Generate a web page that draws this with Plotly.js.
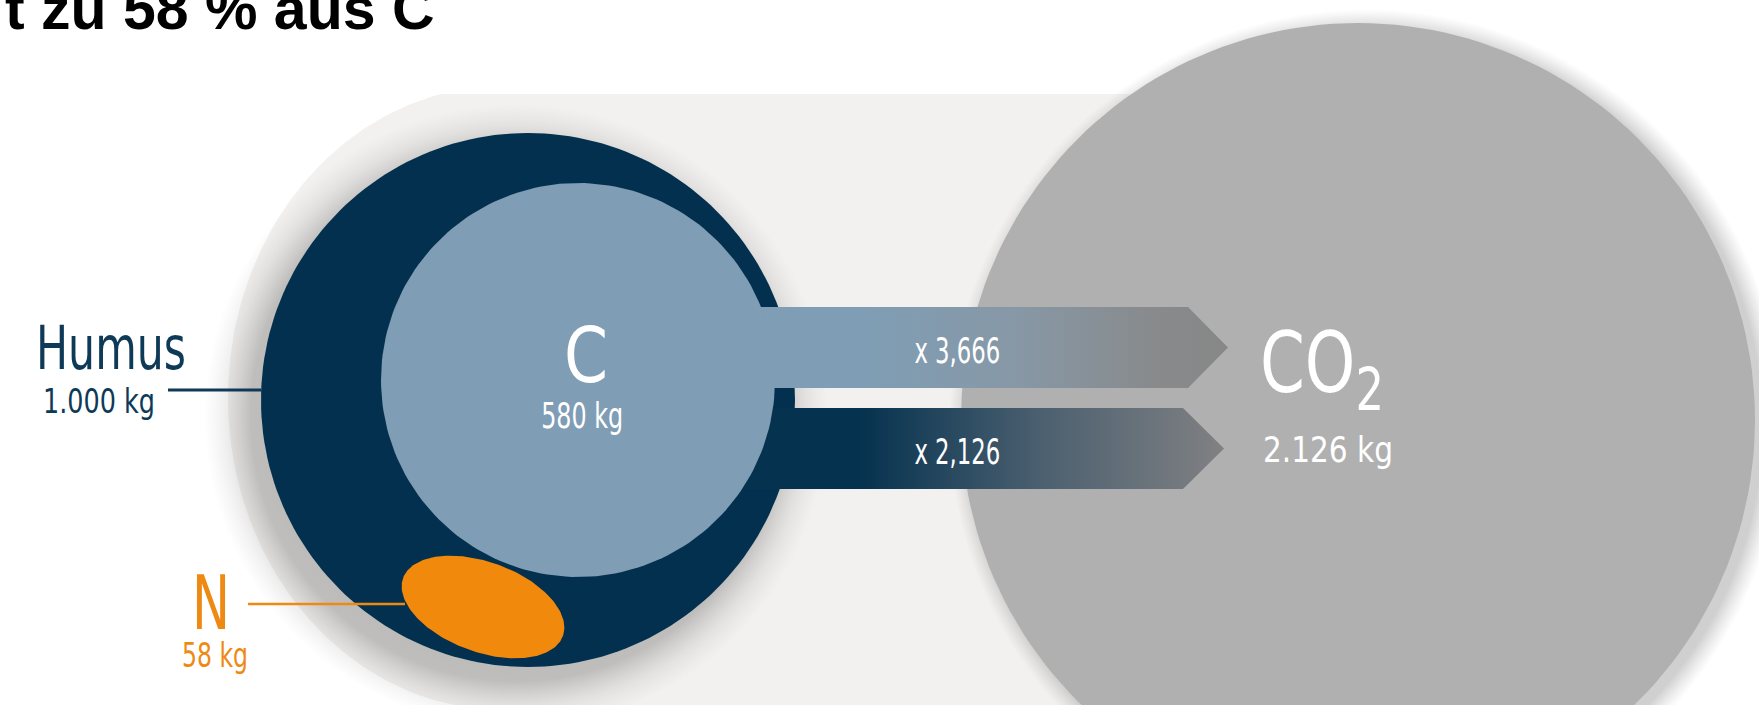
<!DOCTYPE html>
<html>
<head>
<meta charset="utf-8">
<script src="https://cdn.plot.ly/plotly-3.0.1.min.js"></script>
<style>
html,body{margin:0;padding:0;background:#ffffff;overflow:hidden}
#chart{width:1759px;height:705px}
</style>
</head>
<body>
<div id="chart"></div>
<script>
// ---------------- data ----------------
const titleText = 't zu 58 % aus C';
const componentNames = ['Humus', 'C', 'N', 'CO<sub>2</sub>'];
const componentKg = [1000, 580, 58, 2126];
const conversionFactors = [3.666, 2.126];

// ---------------- helpers ----------------
const W = 1759, H = 705;
function deNum(v) { return String(v).replace(/\B(?=(\d{3})+(?!\d))/g, '.'); }
function kgLabel(v) { return deNum(v) + ' kg'; }
function factorLabel(f) { return 'x ' + f.toFixed(3).replace('.', ','); }

// geometry (pixel-like data coordinates, y axis reversed)
const G = {
  bg:     {cx: 503, cy: 398, rx: 275, ry: 312, top: 94, right: 1420},
  co2:    {cx: 1358, cy: 420, r: 397},
  humus:  {cx: 528, cy: 400, r: 267},
  carbon: {cx: 578, cy: 380, r: 197},
  nitro:  {cx: 483, cy: 607, rx: 85, ry: 45, rot: 20},
  arrows: [
    {x0: 600, x1: 1188, tip: 1228, y0: 307, y1: 388},
    {x0: 600, x1: 1183, tip: 1224, y0: 408, y1: 489}
  ]
};

function ellipse(cx, cy, rx, ry, rotDeg, n) {
  n = n || 200;
  const a = rotDeg * Math.PI / 180, xs = [], ys = [];
  for (let i = 0; i <= n; i++) {
    const t = 2 * Math.PI * i / n;
    const ex = rx * Math.cos(t), ey = ry * Math.sin(t);
    xs.push(cx + ex * Math.cos(a) - ey * Math.sin(a));
    ys.push(cy + ex * Math.sin(a) + ey * Math.cos(a));
  }
  return {x: xs, y: ys};
}
function circle(c, dx, dy, dr) { return ellipse(c.cx + (dx||0), c.cy + (dy||0), c.r + (dr||0), c.r + (dr||0), 0); }

function bgShape(g) {
  const bottom = H + 5;
  const tT = Math.asin(Math.max(-1, (g.top - g.cy) / g.ry));
  const tB = Math.asin(Math.min(1, (bottom - g.cy) / g.ry));
  const aT = Math.PI - tT, aB = Math.PI - tB;
  const xB = g.cx + g.rx * Math.cos(aB), yB = g.cy + g.ry * Math.sin(aB);
  const xs = [g.cx + g.rx * Math.cos(aT), g.right, g.right, xB, xB];
  const ys = [g.top, g.top, bottom, bottom, yB];
  for (let i = 0; i <= 160; i++) {
    const t = aB + (aT - aB) * i / 160;
    xs.push(g.cx + g.rx * Math.cos(t)); ys.push(g.cy + g.ry * Math.sin(t));
  }
  return {x: xs, y: ys};
}
function arrowShape(a) {
  const m = (a.y0 + a.y1) / 2;
  return {x: [a.x0, a.x1, a.tip, a.x1, a.x0, a.x0], y: [a.y0, a.y0, m, a.y1, a.y1, a.y0]};
}
function poly(p, opts) {
  return Object.assign({type: 'scatter', mode: 'lines', x: p.x, y: p.y, fill: 'toself',
    line: {width: 0, color: 'rgba(0,0,0,0)'}, hoverinfo: 'skip', showlegend: false}, opts);
}

const NAVY = '#03304e', LIGHTBLUE = '#7f9db5', ORANGE = '#f0890c', GREY = '#b1b0b1', BG = '#f2f1ef';

const traces = [
  poly(bgShape(G.bg), {fillcolor: BG}),
  poly(circle(G.co2, 8, 6, 20), {fillgradient: {type: 'radial', colorscale: [
    [0, 'rgba(120,120,120,0.45)'], [0.95, 'rgba(120,120,120,0.35)'], [1, 'rgba(150,150,150,0)']]}}),
  poly(circle(G.co2), {fillcolor: GREY}),
  poly(circle(G.humus, -12, 16, 45), {fillgradient: {type: 'radial', colorscale: [
    [0, 'rgba(80,80,80,0.5)'], [0.85, 'rgba(80,80,80,0.32)'], [0.93, 'rgba(110,110,110,0.12)'], [1, 'rgba(140,140,140,0)']]}}),
  poly(circle(G.humus), {fillcolor: NAVY}),
  poly(arrowShape(G.arrows[1]), {fillgradient: {type: 'horizontal', start: 860, stop: 1224, colorscale: [
    [0, '#05324f'], [0.5, '#4c6070'], [1, '#808183']]}}),
  poly(arrowShape(G.arrows[0]), {fillgradient: {type: 'horizontal', start: 870, stop: 1228, colorscale: [
    [0, '#7f9db4'], [0.4, '#8798a6'], [0.8, '#888a8c'], [1, '#878787']]}}),
  poly(circle(G.carbon), {fillcolor: LIGHTBLUE}),
  poly(ellipse(G.nitro.cx, G.nitro.cy, G.nitro.rx, G.nitro.ry, G.nitro.rot), {fillcolor: ORANGE})
];

const COND = 'DejaVu Sans Condensed, DejaVu Sans, sans-serif';
function ann(text, x, y, size, color, xanchor) {
  return {text: text, x: x, y: y, xref: 'x', yref: 'y', showarrow: false,
    xanchor: xanchor || 'left', yanchor: 'middle',
    font: {family: COND, size: size, color: color}};
}
const humusC = '#0e3a58', nC = '#ee8a14', WHITE = '#ffffff';
const annotations = [
  {text: titleText, x: 3, y: 9, xref: 'x', yref: 'y', showarrow: false, xanchor: 'left', yanchor: 'middle',
   font: {family: 'Liberation Sans, Arial, sans-serif', size: 59, color: '#000000', weight: 'bold'}},
  ann(componentNames[0], 34, 347, 61, humusC),
  ann(kgLabel(componentKg[0]), 41, 401, 33, humusC),
  ann(componentNames[1], 586, 355, 76, WHITE, 'center'),
  ann(kgLabel(componentKg[1]), 582, 416, 35, WHITE, 'center'),
  ann(componentNames[2], 190, 603, 74, nC),
  ann(kgLabel(componentKg[2]), 180, 655, 33, nC),
  ann(componentNames[3], 1258, 369, 84, WHITE),
  ann(kgLabel(componentKg[3]), 1261, 450, 35, WHITE),
  ann(factorLabel(conversionFactors[0]), 957, 351, 35, WHITE, 'center'),
  ann(factorLabel(conversionFactors[1]), 957, 452, 35, WHITE, 'center')
];
// target text widths (px) to emulate the narrow typeface of the original
const textWidths = [null, 150, 112, 44, 82, 38, 66, 124, 130, 86, 86];

const humusLineY = 390;
const humusEdgeX = G.humus.cx - Math.sqrt(G.humus.r * G.humus.r - Math.pow(humusLineY - G.humus.cy, 2));
const shapes = [
  {type: 'line', xref: 'x', yref: 'y', x0: 168, x1: humusEdgeX, y0: humusLineY, y1: humusLineY, line: {color: humusC, width: 3}},
  {type: 'line', xref: 'x', yref: 'y', x0: 248, x1: 405, y0: 604, y1: 604, line: {color: nC, width: 2.5}}
];

const layout = {
  width: W, height: H,
  margin: {l: 0, r: 0, t: 0, b: 0, pad: 0},
  paper_bgcolor: '#ffffff', plot_bgcolor: '#ffffff',
  xaxis: {range: [0, W], visible: false, fixedrange: true},
  yaxis: {range: [H, 0], visible: false, fixedrange: true},
  showlegend: false,
  annotations: annotations,
  shapes: shapes
};
Plotly.newPlot('chart', traces, layout, {displayModeBar: false, staticPlot: true}).then(function () {
  document.querySelectorAll('#chart g.annotation').forEach(function (g) {
    const i = +g.getAttribute('data-index');
    const target = textWidths[i];
    if (!target) return;
    const t = g.querySelector('text.annotation-text');
    if (!t) return;
    const bb = t.getBBox();
    if (!bb.width) return;
    const s = target / bb.width;
    const xa = annotations[i].xanchor;
    const ox = xa === 'left' ? bb.x : (xa === 'right' ? bb.x + bb.width : bb.x + bb.width / 2);
    t.setAttribute('transform', 'translate(' + ox + ',0) scale(' + s + ',1) translate(' + (-ox) + ',0)');
  });
});
</script>
</body>
</html>
